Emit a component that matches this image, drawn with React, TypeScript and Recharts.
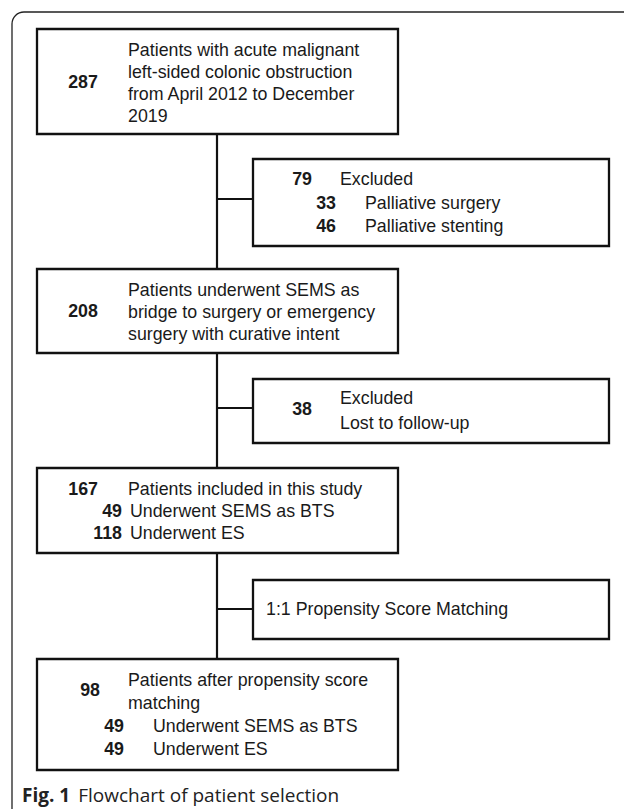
import React from 'react';
import { ScatterChart, Scatter, XAxis, YAxis, ReferenceArea, ReferenceLine } from 'recharts';

// ---------- data ----------
const stageCounts = [287, 208, 167, 98];
const stageLabels = [
  ['Patients with acute malignant', 'left-sided colonic obstruction', 'from April 2012 to December', '2019'],
  ['Patients underwent SEMS as', 'bridge to surgery or emergency', 'surgery with curative intent'],
  ['Patients included in this study'],
  ['Patients after propensity score', 'matching'],
];
const exclusionCounts = [79, 38];
const exclusionTitle = 'Excluded';
const palliativeReasons = ['Palliative surgery', 'Palliative stenting'];
const palliativeCounts = [33, 46];
const lostReason = 'Lost to follow-up';
const groupLabels = ['Underwent SEMS as BTS', 'Underwent ES'];
const groupCountsBefore = [49, 118];
const groupCountsAfter = [49, 49];
const matchingLabel = '1:1 Propensity Score Matching';
const captionBold = 'Fig. 1';
const captionText = 'Flowchart of patient selection';

// ---------- layout (chart domain units) ----------
const W = 624;
const H = 809;
const mainBoxes = [
  { x1: 37, x2: 398, y1: 29, y2: 134 },
  { x1: 37, x2: 398, y1: 269, y2: 353 },
  { x1: 37, x2: 398, y1: 468, y2: 553 },
  { x1: 37, x2: 398, y1: 659, y2: 770 },
];
const sideBoxes = [
  { x1: 253, x2: 609, y1: 159, y2: 246 },
  { x1: 253, x2: 609, y1: 379, y2: 443 },
  { x1: 253, x2: 609, y1: 580, y2: 639 },
];
const spineX = 217;
const branchY = [199, 408, 609];

type T = { x: number; y: number; label: string; bold?: boolean; anchor?: string };

const texts: T[] = [
  // box 1
  { x: 83, y: 82, label: String(stageCounts[0]), bold: true, anchor: 'middle' },
  ...stageLabels[0].map((l, i) => ({ x: 128, y: 50 + i * 22, label: l })),
  // side box 1
  { x: 312, y: 179, label: String(exclusionCounts[0]), bold: true, anchor: 'end' },
  { x: 340, y: 179, label: exclusionTitle },
  ...palliativeReasons.map((l, i) => ({ x: 365, y: 203 + i * 23, label: l })),
  ...palliativeCounts.map((c, i) => ({ x: 336, y: 203 + i * 23, label: String(c), bold: true, anchor: 'end' })),
  // box 2
  { x: 83, y: 311, label: String(stageCounts[1]), bold: true, anchor: 'middle' },
  ...stageLabels[1].map((l, i) => ({ x: 128, y: 290 + i * 22, label: l })),
  // side box 2
  { x: 312, y: 409, label: String(exclusionCounts[1]), bold: true, anchor: 'end' },
  { x: 340, y: 398, label: exclusionTitle },
  { x: 340, y: 423, label: lostReason },
  // box 3
  { x: 98, y: 489, label: String(stageCounts[2]), bold: true, anchor: 'end' },
  { x: 128, y: 489, label: stageLabels[2][0] },
  ...groupCountsBefore.map((c, i) => ({ x: 122, y: 511 + i * 22, label: String(c), bold: true, anchor: 'end' })),
  ...groupLabels.map((l, i) => ({ x: 130, y: 511 + i * 22, label: l })),
  // side box 3
  { x: 266, y: 609, label: matchingLabel },
  // box 4
  { x: 100, y: 690, label: String(stageCounts[3]), bold: true, anchor: 'end' },
  ...stageLabels[3].map((l, i) => ({ x: 128, y: 680 + i * 23, label: l })),
  ...groupCountsAfter.map((c, i) => ({ x: 124, y: 726 + i * 23, label: String(c), bold: true, anchor: 'end' })),
  ...groupLabels.map((l, i) => ({ x: 153, y: 726 + i * 23, label: l })),
];

const captionPoint = [{ x: 22, y: 795, label: captionText }];

const FONT = '"Liberation Sans", Arial, Helvetica, sans-serif';

const TextShape = (props: any) => {
  const p = props.payload ?? props;
  const { cx, cy } = props;
  return (
    <text
      x={cx}
      y={cy}
      dominantBaseline="central"
      textAnchor={p.anchor ?? 'start'}
      fontFamily={FONT}
      fontSize={17.8}
      fontWeight={p.bold ? 'bold' : 'normal'}
      fill="#1a1a1a"
    >
      {p.label}
    </text>
  );
};

const CaptionShape = (props: any) => {
  const { cx, cy } = props;
  return (
    <text x={cx} y={cy} dominantBaseline="central" fontFamily='"Open Sans", "Noto Sans", sans-serif' fontSize={19} fill="#222">
      <tspan fontWeight="bold">{captionBold}</tspan>
      <tspan dx={8}>{captionText}</tspan>
    </text>
  );
};

const FrameShape = (props: any) => (
  <rect x={props.x} y={props.y} width={props.width} height={props.height} rx={12} ry={12} fill="none" stroke="#222" strokeWidth={1.3} />
);

export default function App() {
  return (
    <div style={{ position: 'absolute', left: 0, top: 0, width: W, height: H, background: '#fff' }}>
      <ScatterChart width={W} height={H} margin={{ top: 0, right: 0, bottom: 0, left: 0 }} accessibilityLayer={false}>
        <XAxis type="number" dataKey="x" domain={[0, W]} hide allowDataOverflow />
        <YAxis type="number" dataKey="y" domain={[0, H]} reversed hide allowDataOverflow />
        <ReferenceArea x1={12} x2={W + 40} y1={12} y2={H + 40} ifOverflow="visible" shape={FrameShape} />
        {mainBoxes.map((b, i) => (
          <ReferenceArea key={'m' + i} {...b} fill="none" stroke="#111" strokeWidth={2.3} fillOpacity={0} strokeOpacity={1} ifOverflow="visible" />
        ))}
        {sideBoxes.map((b, i) => (
          <ReferenceArea key={'s' + i} {...b} fill="none" stroke="#111" strokeWidth={2.3} fillOpacity={0} strokeOpacity={1} ifOverflow="visible" />
        ))}
        {mainBoxes.slice(0, -1).map((b, i) => (
          <ReferenceLine
            key={'v' + i}
            segment={[{ x: spineX, y: b.y2 }, { x: spineX, y: mainBoxes[i + 1].y1 }]}
            stroke="#111"
            strokeWidth={2.2}
            ifOverflow="visible"
          />
        ))}
        {branchY.map((y, i) => (
          <ReferenceLine
            key={'b' + i}
            segment={[{ x: spineX, y }, { x: sideBoxes[i].x1, y }]}
            stroke="#111"
            strokeWidth={2.2}
            ifOverflow="visible"
          />
        ))}
        <Scatter data={texts} shape={TextShape} isAnimationActive={false} />
        <Scatter data={captionPoint} shape={CaptionShape} isAnimationActive={false} />
      </ScatterChart>
    </div>
  );
}
